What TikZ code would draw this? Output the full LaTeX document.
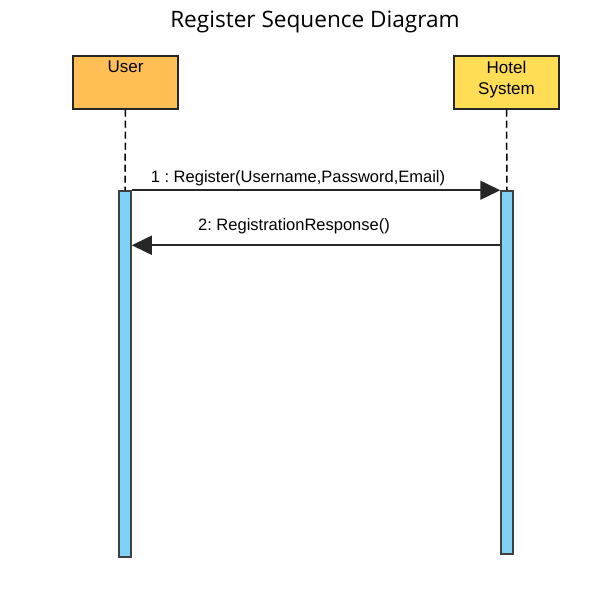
\documentclass[tikz,border=0pt]{standalone}
\usepackage{fontspec}
\setmainfont{Liberation Sans}
\newfontfamily\titlefont{Open Sans}
\usetikzlibrary{arrows.meta}
\frenchspacing

\definecolor{userorange}{HTML}{FFBF55}
\definecolor{hotelyellow}{HTML}{FFDD55}
\definecolor{actblue}{HTML}{7FD2F6}

\tikzset{
	actor/.style={draw=black!85, line width=1.5pt, minimum width=105pt, minimum height=53pt, inner sep=0pt},
	actlabel/.style={anchor=north, align=center, inner sep=0pt, yshift=-5.5pt, font=\fontsize{17}{21}\selectfont},
	activation/.style={draw=black!75, fill=actblue, line width=1.5pt, minimum width=12pt, inner sep=0pt},
	lifeline/.style={line width=1.5pt, dash pattern=on 7pt off 4pt},
	msg/.style={line width=1.6pt, draw=black!85, -{Triangle[length=20pt,width=19pt]}},
	msglabel/.style={anchor=base, inner sep=0pt, font=\fontsize{16.5}{20}\selectfont}
}

\begin{document}
\begin{tikzpicture}[x=1pt, y=-1pt]
		\useasboundingbox (0,0) rectangle (606,596);
		\node[anchor=base, font=\titlefont\fontsize{22.6}{28}\selectfont] (title) at (315,28) {Register Sequence Diagram};

		% actors
		\node[actor, fill=userorange, label={[actlabel]north:User}] (user) at (125.5,82.5) {};
		\node[actor, fill=hotelyellow, label={[actlabel]north:Hotel\\System}] (hotel) at (506.5,82.5) {};

		% activation bars
		\node[activation, minimum height=366pt] (actuser) at (125,374) {};
		\node[activation, minimum height=363pt] (acthotel) at (507,372.5) {};

		\draw[lifeline] (user.south) -- (actuser.north);
		\draw[lifeline] (hotel.south) -- (acthotel.north);

		% messages
		\coordinate (retstart) at ([yshift=-55pt]acthotel.north west);
		\coordinate (retend) at (actuser.east |- retstart);
		\draw[msg] (actuser.north east) -- (acthotel.north west)
			node[msglabel, midway, xshift=-18pt, yshift=7.5pt] (register) {1 : Register(Username,Password,Email)};
		\draw[msg] (retstart) -- (retend)
			node[msglabel, midway, xshift=-22pt, yshift=14.3pt] (response) {2: RegistrationResponse()};
	\end{tikzpicture}
\end{document}
